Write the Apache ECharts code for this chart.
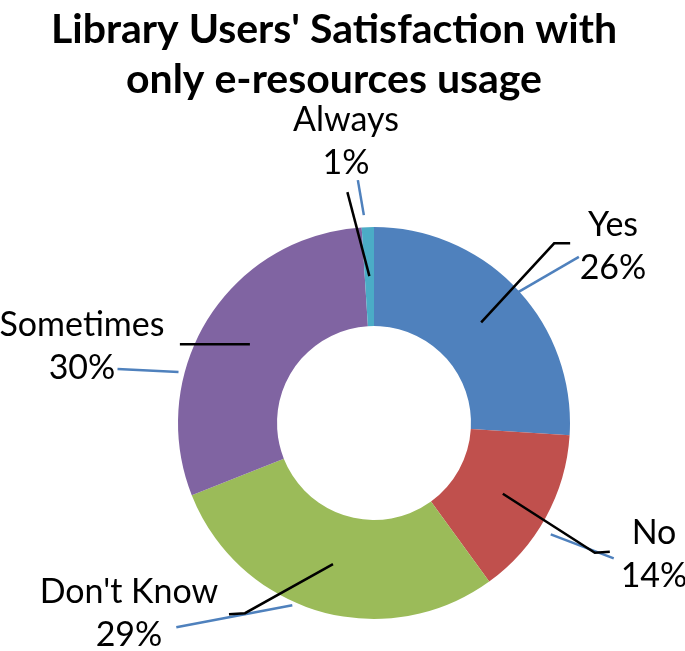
<!DOCTYPE html>
<html>
<head>
<meta charset="utf-8">
<style>html,body{margin:0;padding:0;background:#fff;}#c{width:685px;height:651px;}</style>
<script src="https://cdn.jsdelivr.net/npm/echarts@6/dist/echarts.min.js"></script>
</head>
<body>
<div id="c"></div>
<script>
// ---- data ----
const categories = ['Yes', 'No', "Don't Know", 'Sometimes', 'Always'];
const values = [26, 14, 29, 30, 1];
const titleText = "Library Users' Satisfaction with\nonly e-resources usage";

// ---- styles ----
const colors = ['#4F81BD', '#C0504D', '#9BBB59', '#8064A2', '#4BACC6'];
const center = [374, 423];
// label block centres (px)
const labelCenters = [[613, 247], [654, 555], [129, 614], [82, 347], [346, 142]];
// black leader lines: offsets from anchor (mid-ring) for elbow and end
const blackElbow = [[73, -79], [92, 59], [-88, 49], [-35, 0], [-22, -84]];
const blackEnd = [[89, -79], [107, 58], [-104, 50], [-70, 0], [-22, -84]];
// blue leader lines: offsets from anchor (outer edge) for start and end
const blueStart = [[0, 4], [5, 17], [-27, -6], [-30, 54], [-4, -12]];
const blueEnd = [[62, -32], [68, 41], [-143, 16], [-91, 51], [-10, -47]];

const chart = echarts.init(document.getElementById('c'), null, {renderer: 'canvas'});
const pieData = categories.map((n, i) => ({name: n, value: values[i]}));
const add = (p, d) => [p[0] + d[0], p[1] + d[1]];

const base = {
  type: 'pie',
  center: center,
  startAngle: 90,
  clockwise: true,
  avoidLabelOverlap: false,
  animation: false,
  data: pieData
};

chart.setOption({
  backgroundColor: '#ffffff',
  color: colors,
  title: {
    text: titleText,
    left: 329,
    top: 0,
    textAlign: 'center',
    textStyle: {
      fontFamily: 'Lato',
      fontWeight: 'bold',
      fontSize: 41,
      lineHeight: 50,
      color: '#000'
    }
  },
  series: [
    Object.assign({}, base, {
      radius: [97, 196],
      itemStyle: {borderWidth: 0},
      label: {
        show: true,
        formatter: '{b}\n{d}%',
        fontFamily: 'Lato',
        fontSize: 34,
        lineHeight: 43,
        color: '#000',
        align: 'center'
      },
      labelLine: {show: false},
      labelLayout: function (p) {
        const c = labelCenters[p.dataIndex];
        return {x: c[0], y: c[1], align: 'center', verticalAlign: 'middle'};
      }
    }),
    Object.assign({}, base, {
      radius: [0, 147],
      silent: true,
      z: 5,
      itemStyle: {color: 'rgba(0,0,0,0)', borderWidth: 0},
      label: {show: true, formatter: ' ', color: 'rgba(0,0,0,0)'},
      labelLine: {show: true, length: 20, length2: 10, lineStyle: {color: '#000', width: 2.5}},
      labelLayout: function (p) {
        const i = p.dataIndex;
        const a = p.labelLinePoints ? p.labelLinePoints[0] : [0, 0];
        return {labelLinePoints: [a, add(a, blackElbow[i]), add(a, blackEnd[i])]};
      }
    }),
    Object.assign({}, base, {
      radius: [0, 196],
      silent: true,
      z: 1,
      itemStyle: {color: 'rgba(0,0,0,0)', borderWidth: 0},
      label: {show: true, formatter: ' ', color: 'rgba(0,0,0,0)'},
      labelLine: {show: true, length: 20, length2: 10, lineStyle: {color: '#4F81BD', width: 2.5}},
      labelLayout: function (p) {
        const i = p.dataIndex;
        const a = p.labelLinePoints ? p.labelLinePoints[0] : [0, 0];
        const s = add(a, blueStart[i]);
        const e = add(a, blueEnd[i]);
        return {labelLinePoints: [s, e, e]};
      }
    })
  ]
});
</script>
</body>
</html>
